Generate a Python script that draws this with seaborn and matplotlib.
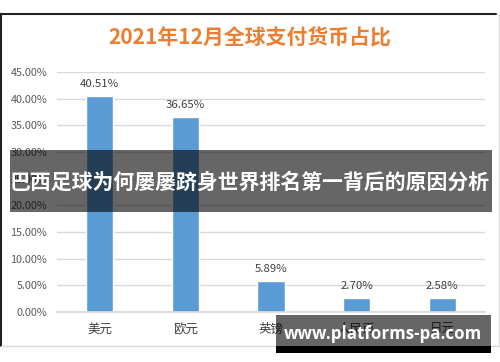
import matplotlib
matplotlib.use("Agg")
import matplotlib.pyplot as plt
import seaborn as sns
import pandas as pd
from matplotlib.patches import Rectangle
from matplotlib.lines import Line2D
from matplotlib.ticker import FuncFormatter

categories = ["美元", "欧元", "英镑", "人民币", "日元"]
shares = [40.51, 36.65, 5.89, 2.70, 2.58]
yticks = [0, 5, 10, 15, 20, 25, 30, 35, 40, 45]
title = "2021年12月全球支付货币占比"
overlay_text = "巴西足球为何屡屡跻身世界排名第一背后的原因分析"
watermark = "www.platforms-pa.com"

sns.set_theme(style="white")
plt.rcParams['font.family'] = ['Noto Sans CJK SC', 'DejaVu Sans']

W, H = 500, 362
fig = plt.figure(figsize=(5, 3.62), dpi=100)
fig.patch.set_facecolor("white")

def fx(x):
    return x / W

def fy(y):
    return 1 - y / H

ax = fig.add_axes([fx(57), fy(312), fx(485) - fx(57), fy(72) - fy(312)])
df = pd.DataFrame({"cur": categories, "share": shares})
sns.barplot(data=df, x="cur", y="share", color="#5B9BD5", saturation=1,
            width=0.32, ax=ax)
ax.set_ylim(0, 45)
ax.set_yticks(yticks)
ax.yaxis.set_major_formatter(FuncFormatter(lambda v, p: f"{v:.2f}%"))
ax.grid(axis="y", color="#D9D9D9", linewidth=1)
ax.set_axisbelow(True)
for s in ["top", "right", "left"]:
    ax.spines[s].set_visible(False)
ax.spines["bottom"].set_color("#D9D9D9")
ax.set_xlabel("")
ax.set_ylabel("")
ax.tick_params(axis="y", length=0, pad=7, labelsize=7.8, labelcolor="#595959")
ax.tick_params(axis="x", length=0, pad=8, labelsize=9, labelcolor="#404040")
ax.bar_label(ax.containers[0], labels=[f"{v:.2f}%" for v in shares],
             padding=5, fontsize=8.2, color="#404040")

# frame decorations
fig.add_artist(Line2D([0, fx(496)], [fy(14), fy(14)], color="#222222", lw=1.5))
fig.add_artist(Line2D([fx(0.8), fx(0.8)], [fy(14), fy(346)], color="#222222", lw=1.5))
fig.add_artist(Line2D([fx(1), fx(499)], [fy(346), fy(346)], color="#D9D9D9", lw=1))
fig.add_artist(Line2D([fx(499), fx(499)], [fy(14), fy(346)], color="#D9D9D9", lw=1))

fig.text(0.5, fy(38), title, ha="center", va="center", fontsize=15,
         fontweight="bold", color="#ED7D31")

# overlay band
fig.add_artist(Rectangle((fx(10), fy(212)), fx(492) - fx(10), fy(150) - fy(212),
                         transform=fig.transFigure, facecolor="black", alpha=0.6,
                         edgecolor="none", zorder=10))
fig.text(fx(250), fy(182), overlay_text, ha="center", va="center", fontsize=15,
         fontweight="bold", color="white", zorder=11)

# watermark
fig.add_artist(Rectangle((fx(276), fy(346)), fx(491) - fx(276), fy(315) - fy(346),
                         transform=fig.transFigure, facecolor="black", alpha=0.6,
                         edgecolor="none", zorder=10))
fig.add_artist(Rectangle((fx(276), fy(353)), fx(491) - fx(276), fy(346) - fy(353),
                         transform=fig.transFigure, facecolor="black",
                         edgecolor="none", zorder=10))
fig.text(fx(383), fy(334), watermark, ha="center", va="center", fontsize=12.2,
         fontweight="bold", color="white", family=["Open Sans", "DejaVu Sans"],
         zorder=11)

fig.savefig("out.png", dpi=100)
